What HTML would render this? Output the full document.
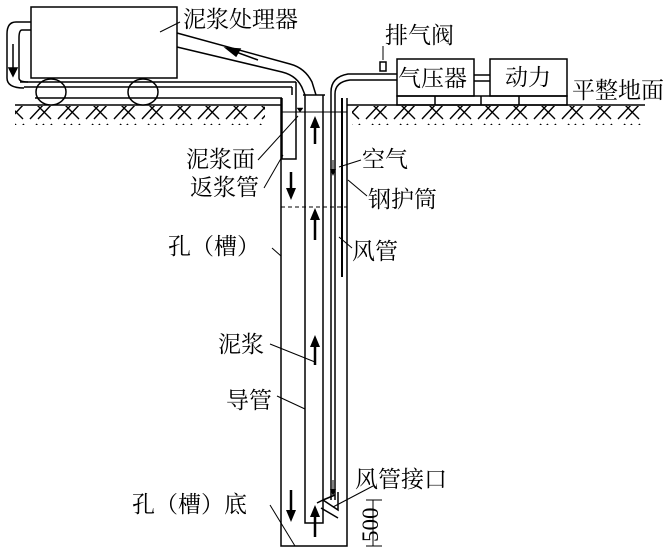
<!DOCTYPE html>
<html><head><meta charset="utf-8"><style>
html,body{margin:0;padding:0;background:#fff;}
svg{display:block;}
text{font-family:"Liberation Serif","Noto Serif CJK SC","Noto Sans CJK SC",serif;font-size:23px;fill:#000;}
</style></head><body>
<svg width="668" height="555" viewBox="0 0 668 555" xmlns="http://www.w3.org/2000/svg">
<defs>
<pattern id="h" width="28" height="20" patternUnits="userSpaceOnUse">
<path d="M2 19 L16 4 M10 19 L24 4 M8 4 L23 19" stroke="#000" stroke-width="1.4" fill="none"/>
</pattern>
</defs>
<g stroke="#000" fill="none" stroke-width="1.5">
<line x1="15" y1="105" x2="281" y2="105"/>
<line x1="347" y1="105" x2="645" y2="105"/>
<rect x="15" y="106" width="250" height="19" fill="url(#h)" stroke="none"/>
<rect x="352" y="106" width="290" height="19" fill="url(#h)" stroke="none"/>
<rect x="31" y="7" width="146" height="71" fill="#fff"/>
<ellipse cx="51" cy="92" rx="15" ry="13" fill="#fff"/>
<ellipse cx="143" cy="92" rx="15" ry="13" fill="#fff"/>
<line x1="35" y1="98" x2="282" y2="98"/>
<line x1="20" y1="82" x2="296" y2="82"/>
<line x1="24" y1="87" x2="292" y2="87"/>
<path d="M31 22 L16 22 Q7 22 7 34 L7 78 Q7 88 24 88"/>
<path d="M31 30 L22 30 Q19 30 19 38 L19 78 Q19 82 28 82"/>
<path d="M13 44 L13 70"/>
<polygon points="9,68 17,68 13,76" fill="#000"/>
<path d="M296 82 L296 159 L282 159 L282 98"/>
<path d="M292 87 L292 95"/>
<polygon points="297,108 303,108 300,112" fill="#000" stroke-width="0.5"/>
<path d="M177 33 L290 64 Q305 68 312 82 L316 95"/>
<path d="M177 47 L282 72 Q298 76 303 90 L305 95"/>
<line x1="236" y1="52" x2="258" y2="60"/>
<polygon points="226,48 240,49 236,56" fill="#000"/>
<path d="M281 98 L281 546 L347 546 L347 98"/>
<line x1="281" y1="112" x2="347" y2="112" stroke-width="1"/>
<line x1="281" y1="207" x2="347" y2="207" stroke-dasharray="4,3" stroke-width="1"/>
<line x1="342" y1="98" x2="342" y2="277" stroke-width="2"/>
<path d="M305 95 L305 523 L323 523 L323 95"/>
<line x1="303" y1="95" x2="325" y2="95"/>
<path d="M331 500 L331 92 Q331 77 348 74 L397 74"/>
<path d="M335 500 L335 94 Q335 82 350 80 L397 80"/>
<path d="M317 503 L323 500 L338 510 L338 492 M323 500 L335 495"/>
<path d="M321 508 L338 518"/>
<rect x="380" y="62" width="6" height="9" fill="#fff"/>
<rect x="397" y="59" width="77" height="37" fill="#fff"/>
<rect x="490" y="59" width="77" height="37" fill="#fff"/>
<line x1="474" y1="75" x2="490" y2="75"/>
<line x1="474" y1="81" x2="490" y2="81"/>
<rect x="397" y="96" width="170" height="9"/>
<line x1="435" y1="96" x2="435" y2="105"/><line x1="481" y1="96" x2="481" y2="105"/><line x1="519" y1="96" x2="519" y2="105"/>
<line x1="180" y1="22" x2="160" y2="32" stroke-width="1"/>
<line x1="383" y1="46" x2="383" y2="60" stroke-width="1"/>
<line x1="258" y1="160" x2="298" y2="116" stroke-width="1"/>
<line x1="264" y1="188" x2="283" y2="155" stroke-width="1"/>
<line x1="361" y1="160" x2="339" y2="167" stroke-width="1"/>
<line x1="367" y1="196" x2="348" y2="180" stroke-width="1"/>
<line x1="272" y1="248" x2="281" y2="256" stroke-width="1"/>
<line x1="352" y1="248" x2="339" y2="237" stroke-width="1"/>
<line x1="270" y1="344" x2="315" y2="362" stroke-width="1"/>
<line x1="277" y1="396" x2="305" y2="409" stroke-width="1"/>
<line x1="373" y1="486" x2="333" y2="507" stroke-width="1"/>
<line x1="270" y1="505" x2="295" y2="546" stroke-width="1"/>
<line x1="373" y1="500" x2="373" y2="546" stroke-width="1"/>
<line x1="366" y1="500" x2="382" y2="500" stroke-width="1"/>
<line x1="366" y1="546" x2="382" y2="546" stroke-width="1"/>
</g>
<g fill="#000" stroke="#000" stroke-width="2.5">
<line x1="315" y1="126" x2="315" y2="144"/><polygon points="310,128 320,128 315,116" stroke="none"/>
<line x1="315" y1="218" x2="315" y2="240"/><polygon points="310,220 320,220 315,208" stroke="none"/>
<line x1="315" y1="345" x2="315" y2="365"/><polygon points="310,347 320,347 315,335" stroke="none"/>
<line x1="315" y1="515" x2="315" y2="537"/><polygon points="310,517 320,517 315,505" stroke="none"/>
<line x1="291" y1="172" x2="291" y2="190"/><polygon points="286,188 296,188 291,200" stroke="none"/>
<line x1="291" y1="490" x2="291" y2="512"/><polygon points="286,510 296,510 291,522" stroke="none"/>
<line x1="333" y1="160" x2="333" y2="170" stroke-width="1"/><polygon points="330,169 336,169 333,176" stroke="none"/>
<line x1="333" y1="480" x2="333" y2="490" stroke-width="1"/><polygon points="330,489 336,489 333,496" stroke="none"/>
</g>
<g>
<text x="183" y="27">泥浆处理器</text>
<text x="385" y="43">排气阀</text>
<text x="398" y="86">气压器</text>
<text x="505" y="85">动力</text>
<text x="572" y="98">平整地面</text>
<text x="186" y="167">泥浆面</text>
<text x="190" y="195">返浆管</text>
<text x="362" y="167">空气</text>
<text x="368" y="207">钢护筒</text>
<text x="168" y="254">孔（槽）</text>
<text x="352" y="259">风管</text>
<text x="218" y="352">泥浆</text>
<text x="226" y="408">导管</text>
<text x="355" y="487">风管接口</text>
<text x="132" y="512">孔（槽）底</text>
<text x="0" y="0" font-size="17" transform="translate(378,542) rotate(-90)">500</text>
</g>
</svg>
</body></html>
